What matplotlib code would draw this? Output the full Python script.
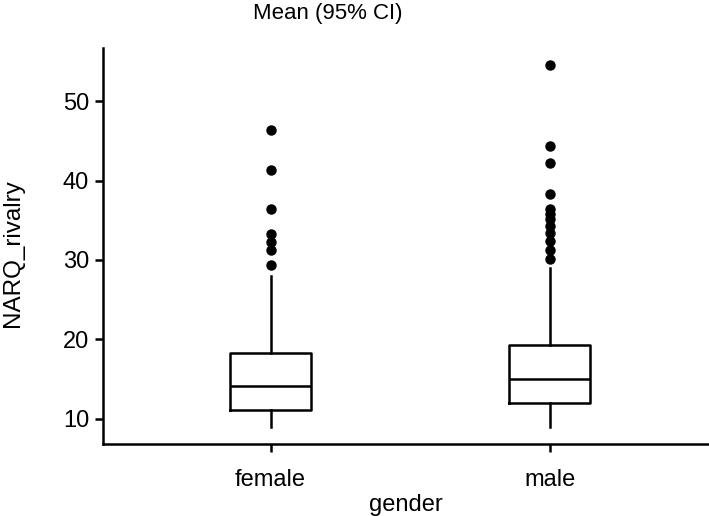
import matplotlib
matplotlib.use('Agg')
import matplotlib.pyplot as plt

groups = ['female', 'male']
q1 = [11.1, 12.0]
medians = [14.1, 15.0]
q3 = [18.3, 19.3]
whislo = [9.0, 9.0]
whishi = [28.0, 29.0]
fliers_female = [29.4, 31.2, 32.2, 33.3, 36.4, 41.3, 46.4]
fliers_male = [30.1, 31.3, 32.4, 33.4, 34.3, 35.1, 35.8, 36.4, 38.3, 42.2, 44.3, 54.5]

plt.rcParams['font.family'] = ['Liberation Sans', 'DejaVu Sans']

fig = plt.figure(figsize=(7.09, 5.16), dpi=100)
ax = fig.add_axes([103 / 709, 1 - 444 / 516, 1 - 103 / 709, (444 - 48) / 516])

stats = []
for i, g in enumerate(groups):
    stats.append(dict(label=g, q1=q1[i], med=medians[i], q3=q3[i],
                      whislo=whislo[i], whishi=whishi[i],
                      fliers=[fliers_female, fliers_male][i]))

ax.bxp(stats, positions=[1, 2], widths=0.29, showcaps=False,
       boxprops=dict(color='black', lw=1.8),
       medianprops=dict(color='black', lw=1.8),
       whiskerprops=dict(color='black', lw=1.8),
       flierprops=dict(marker='o', markerfacecolor='black', markeredgecolor='black',
                       markersize=6.5))

ax.set_xlim(0.4, 2.57)
ax.set_ylim(6.8, 56.7)
ax.set_yticks([10, 20, 30, 40, 50])
ax.spines['top'].set_visible(False)
ax.spines['right'].set_visible(False)
for s in ['left', 'bottom']:
    ax.spines[s].set_linewidth(1.8)
ax.tick_params(labelsize=17, width=1.8, length=6)
ax.tick_params(axis='y', pad=4)
ax.tick_params(axis='x', pad=12)
ax.set_xlabel('gender', fontsize=17, labelpad=2)
ax.set_ylabel('NARQ_rivalry', fontsize=17.5)
ax.yaxis.set_label_coords(-0.131, (444 - 253) / (444 - 48))

fig.text(328 / 709, 1 - 14 / 516, 'Mean (95% CI)', ha='center', va='center', fontsize=16)

fig.savefig('out.png', dpi=100)
